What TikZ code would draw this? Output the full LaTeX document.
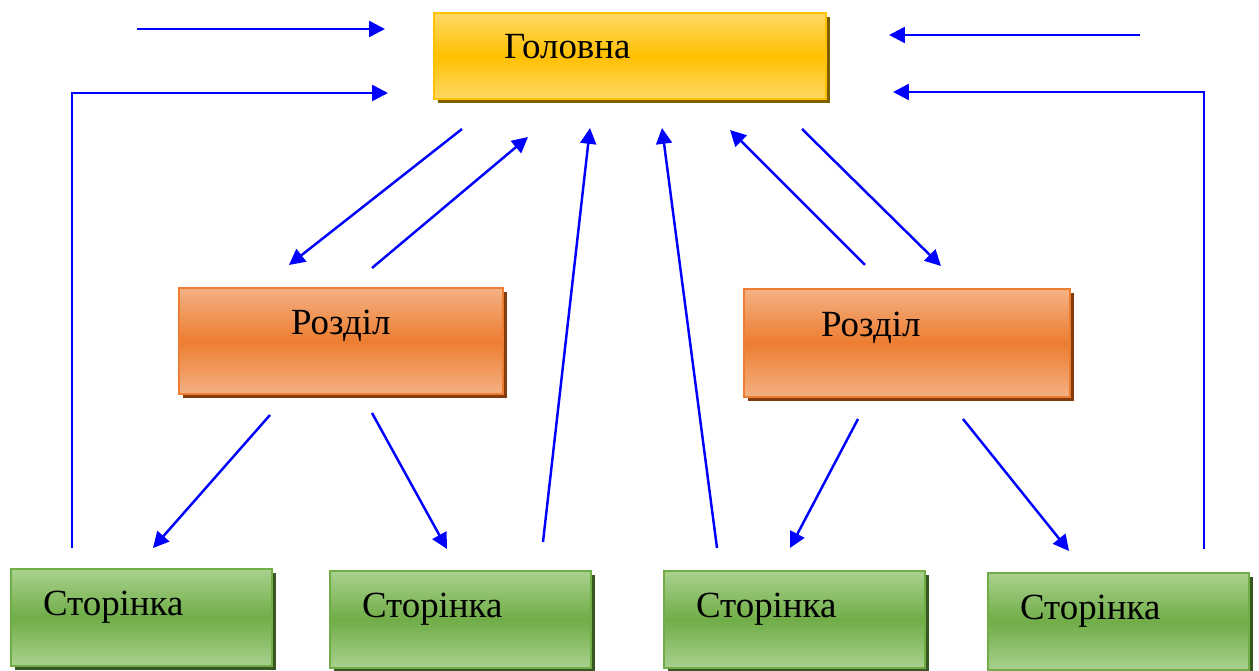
\documentclass[tikz,border=0pt]{standalone}
\usepackage{fontspec}
\setmainfont{Liberation Serif}
\usetikzlibrary{arrows.meta,shadows}

\definecolor{gold}{HTML}{FFC000}
\definecolor{goldlt}{HTML}{FFD966}
\definecolor{golddk}{HTML}{7F6000}
\definecolor{rust}{HTML}{ED7D31}
\definecolor{rustlt}{HTML}{F4B183}
\definecolor{rustdk}{HTML}{843C0C}
\definecolor{leaf}{HTML}{70AD47}
\definecolor{leaflt}{HTML}{A9D18E}
\definecolor{leafdk}{HTML}{385723}

\tikzset{
  link/.style={blue, line width=1.4pt, -{Triangle[length=9pt,width=9pt]}},
  plate/.style={draw, line width=1.2pt, anchor=north west, inner ysep=0pt,
    align=left, font=\fontsize{21}{25}\selectfont},
  homebox/.style={plate, draw=gold, top color=goldlt, bottom color=goldlt,
    middle color=gold,
    general shadow={fill=golddk, shadow xshift=2.5pt, shadow yshift=-2.5pt}},
  secbox/.style={plate, draw=rust, top color=rustlt, bottom color=rustlt,
    middle color=rust,
    general shadow={fill=rustdk, shadow xshift=2.5pt, shadow yshift=-2.5pt}},
  pagebox/.style={plate, draw=leaf, top color=leaflt, bottom color=leaflt,
    middle color=leaf,
    general shadow={fill=leafdk, shadow xshift=2.5pt, shadow yshift=-2.5pt},
    inner xsep=0.64cm, text width=3.94cm, text height=0.92cm, text depth=1.02cm}
}

\begin{document}
\begin{tikzpicture}[x=0.02cm,y=-0.02cm]
  \useasboundingbox (0,0) rectangle (1259,671);

  % boxes
  \node[homebox, inner xsep=1.4cm, text width=5.04cm,
    text height=0.9cm, text depth=0.82cm] (home) at (433,12) {Головна};
  \node[secbox, inner xsep=2.24cm, text width=2.0cm,
    text height=0.92cm, text depth=1.2cm] (secL) at (178,287) {Розділ};
  \node[secbox, inner xsep=1.54cm, text width=3.44cm,
    text height=0.94cm, text depth=1.22cm] (secR) at (743,288) {Розділ};
  \node[pagebox] (pg1) at (10,568) {Сторінка};
  \node[pagebox] (pg2) at (329,570) {Сторінка};
  \node[pagebox] (pg3) at (663,570) {Сторінка};
  \node[pagebox] (pg4) at (987,572) {Сторінка};

  % free arrow ends
  \coordinate (inA) at (137,29);   \coordinate (inAt) at (385,29);
  \coordinate (upL) at (72,548);   \coordinate (upLc) at (72,93);
  \coordinate (upLt) at (388,93);
  \coordinate (inB) at (1140,35);  \coordinate (inBt) at (889,35);
  \coordinate (upR) at (1204,549); \coordinate (upRc) at (1204,92);
  \coordinate (upRt) at (893,92);
  \coordinate (hdL) at (462,129);  \coordinate (hdLt) at (289,265);
  \coordinate (sbL) at (372,268);  \coordinate (sbLt) at (528,137);
  \coordinate (pbL) at (543,542);  \coordinate (pbLt) at (590,128);
  \coordinate (pbR) at (717,548);  \coordinate (pbRt) at (662,128);
  \coordinate (sbR) at (865,265);  \coordinate (sbRt) at (730,130);
  \coordinate (hdR) at (802,129);  \coordinate (hdRt) at (941,266);
  \coordinate (lp1) at (270,415);  \coordinate (lp1t) at (153,548);
  \coordinate (lp2) at (372,413);  \coordinate (lp2t) at (447,549);
  \coordinate (rp3) at (858,419);  \coordinate (rp3t) at (790,548);
  \coordinate (rp4) at (963,419);  \coordinate (rp4t) at (1069,551);

  % arrows
  \draw[link] (inA) -- (inAt);
  \draw[link] (upL) -- (upLc) -- (upLt);
  \draw[link] (inB) -- (inBt);
  \draw[link] (upR) -- (upRc) -- (upRt);
  \draw[link] (hdL) -- (hdLt);
  \draw[link] (sbL) -- (sbLt);
  \draw[link] (pbL) -- (pbLt);
  \draw[link] (pbR) -- (pbRt);
  \draw[link] (sbR) -- (sbRt);
  \draw[link] (hdR) -- (hdRt);
  \draw[link] (lp1) -- (lp1t);
  \draw[link] (lp2) -- (lp2t);
  \draw[link] (rp3) -- (rp3t);
  \draw[link] (rp4) -- (rp4t);
\end{tikzpicture}
\end{document}
